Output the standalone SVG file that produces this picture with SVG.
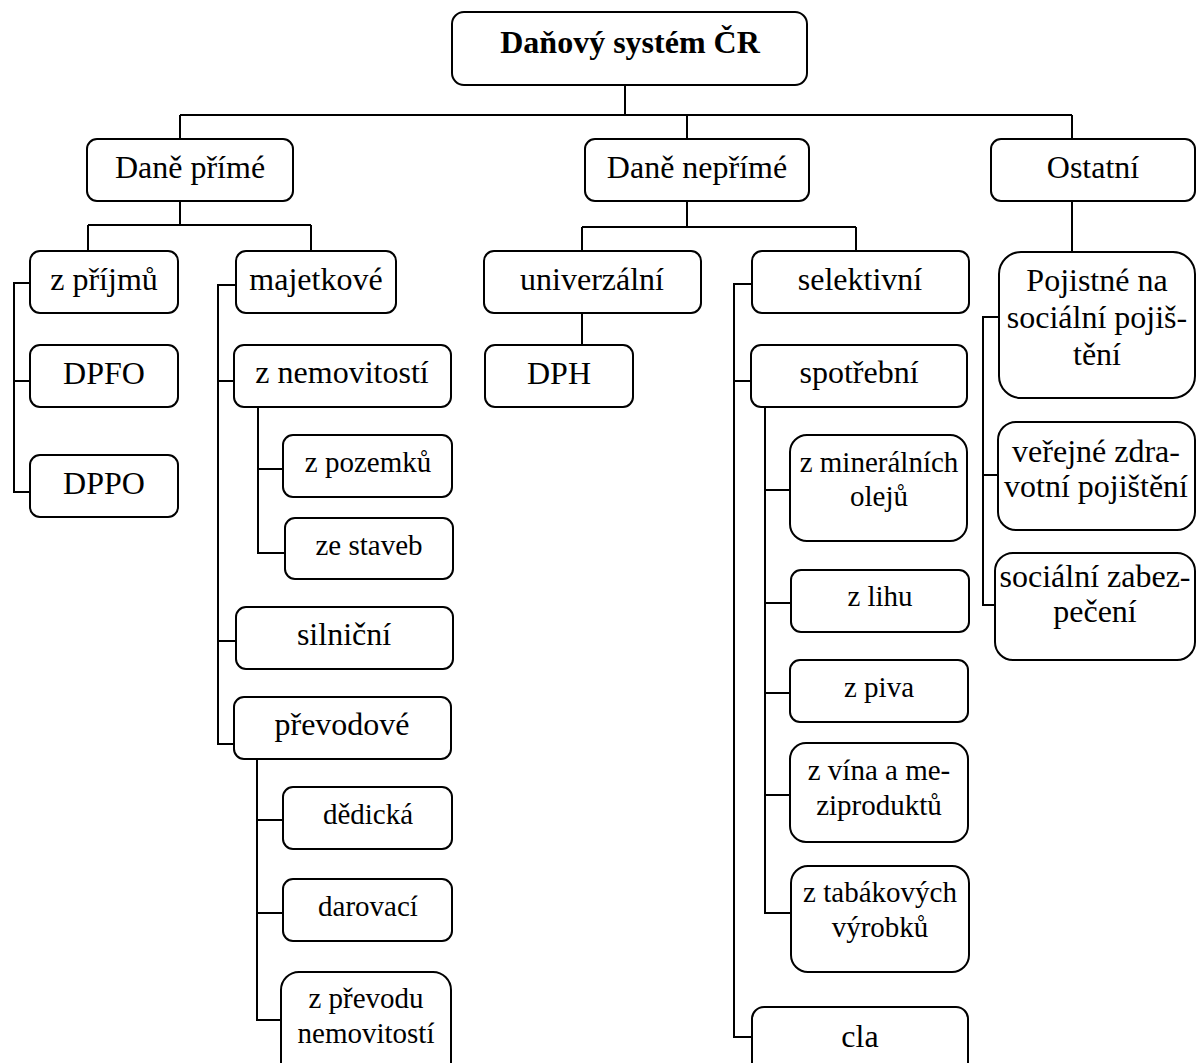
<svg xmlns="http://www.w3.org/2000/svg" width="1196" height="1063" viewBox="0 0 1196 1063">
<style>
  .box { fill: #fff; stroke: #000; stroke-width: 2; }
  .t { font-family: 'Liberation Serif', 'Times New Roman', serif; font-size: 32px; fill: #000; text-anchor: middle; }
  .s { font-size: 29px; }
  .b { font-weight: bold; }
  .c { fill: none; stroke: #000; stroke-width: 2; }
</style>
<rect width="1196" height="1063" fill="#fff"/>
<g id="connectors">
  <path class="c" d="M625 85V115M180 115H1072M180 115V139M687 115V139M1072 115V139"/>
  <path class="c" d="M180 201V225M88 225H311M88 225V251M311 225V251"/>
  <path class="c" d="M687 201V227M582 227H856M582 227V251M856 227V251"/>
  <path class="c" d="M1072 201V252"/>
  <path class="c" d="M30 283H14V492H30M14 381H30"/>
  <path class="c" d="M236 285H218V744H234M218 381H234M218 641H236"/>
  <path class="c" d="M258 407V553H285M258 469H283"/>
  <path class="c" d="M257 759V1020H281M257 820H283M257 913H283"/>
  <path class="c" d="M582 313V345"/>
  <path class="c" d="M752 284H734V1037H752M734 381H751"/>
  <path class="c" d="M765 407V913H791M765 490H790M765 603H791M765 693H790M765 795H790"/>
  <path class="c" d="M999 317H983V605H995M983 475H998"/>
</g>
<g id="root"><rect class="box" x="452" y="12" width="355" height="73" rx="12"/><text class="t b" x="630" y="53">Daňový systém ČR</text></g>
<g id="dane-prime"><rect class="box" x="87" y="139" width="206" height="62" rx="10"/><text class="t" x="190" y="178">Daně přímé</text></g>
<g id="dane-neprime"><rect class="box" x="585" y="139" width="224" height="62" rx="10"/><text class="t" x="697" y="178">Daně nepřímé</text></g>
<g id="ostatni"><rect class="box" x="991" y="139" width="204" height="62" rx="10"/><text class="t" x="1093" y="178">Ostatní</text></g>
<g id="z-prijmu"><rect class="box" x="30" y="251" width="148" height="62" rx="10"/><text class="t" x="104" y="290">z příjmů</text></g>
<g id="majetkove"><rect class="box" x="236" y="251" width="160" height="62" rx="10"/><text class="t" x="316" y="290">majetkové</text></g>
<g id="univerzalni"><rect class="box" x="484" y="251" width="217" height="62" rx="10"/><text class="t" x="592" y="290">univerzální</text></g>
<g id="selektivni"><rect class="box" x="752" y="251" width="217" height="62" rx="10"/><text class="t" x="860" y="290">selektivní</text></g>
<g id="pojistne"><rect class="box" x="999" y="252" width="196" height="146" rx="22"/><text class="t" x="1097" y="291">Pojistné na</text><text class="t" x="1097" y="328">sociální pojiš-</text><text class="t" x="1097" y="365">tění</text></g>
<g id="dpfo"><rect class="box" x="30" y="345" width="148" height="62" rx="10"/><text class="t" x="104" y="384">DPFO</text></g>
<g id="dppo"><rect class="box" x="30" y="455" width="148" height="62" rx="10"/><text class="t" x="104" y="494">DPPO</text></g>
<g id="z-nemovitosti"><rect class="box" x="234" y="345" width="217" height="62" rx="10"/><text class="t" x="342" y="383">z nemovitostí</text></g>
<g id="z-pozemku"><rect class="box" x="283" y="435" width="169" height="62" rx="10"/><text class="t s" x="368" y="472">z pozemků</text></g>
<g id="ze-staveb"><rect class="box" x="285" y="518" width="168" height="61" rx="10"/><text class="t s" x="369" y="555">ze staveb</text></g>
<g id="silnicni"><rect class="box" x="236" y="607" width="217" height="62" rx="10"/><text class="t" x="344" y="645">silniční</text></g>
<g id="prevodove"><rect class="box" x="234" y="697" width="217" height="62" rx="10"/><text class="t" x="342" y="735">převodové</text></g>
<g id="dedicka"><rect class="box" x="283" y="787" width="169" height="62" rx="10"/><text class="t s" x="368" y="824">dědická</text></g>
<g id="darovaci"><rect class="box" x="283" y="879" width="169" height="62" rx="10"/><text class="t s" x="368" y="916">darovací</text></g>
<g id="z-prevodu"><rect class="box" x="281" y="972" width="170" height="110" rx="18"/><text class="t s" x="366" y="1008">z převodu</text><text class="t s" x="366" y="1043">nemovitostí</text></g>
<g id="dph"><rect class="box" x="485" y="345" width="148" height="62" rx="10"/><text class="t" x="559" y="384">DPH</text></g>
<g id="spotrebni"><rect class="box" x="751" y="345" width="216" height="62" rx="10"/><text class="t" x="859" y="383">spotřební</text></g>
<g id="z-mineralnich"><rect class="box" x="790" y="435" width="177" height="106" rx="17"/><text class="t s" x="879" y="472">z minerálních</text><text class="t s" x="879" y="506">olejů</text></g>
<g id="z-lihu"><rect class="box" x="791" y="570" width="178" height="62" rx="10"/><text class="t s" x="880" y="606">z lihu</text></g>
<g id="z-piva"><rect class="box" x="790" y="660" width="178" height="62" rx="10"/><text class="t s" x="879" y="697">z piva</text></g>
<g id="z-vina"><rect class="box" x="790" y="743" width="178" height="99" rx="16"/><text class="t s" x="879" y="780">z vína a me-</text><text class="t s" x="879" y="815">ziproduktů</text></g>
<g id="z-tabakovych"><rect class="box" x="791" y="866" width="178" height="106" rx="17"/><text class="t s" x="880" y="902">z tabákových</text><text class="t s" x="880" y="937">výrobků</text></g>
<g id="cla"><rect class="box" x="752" y="1007" width="216" height="80" rx="12"/><text class="t" x="860" y="1047">cla</text></g>
<g id="verejne"><rect class="box" x="998" y="422" width="197" height="108" rx="18"/><text class="t" x="1096" y="462">veřejné zdra-</text><text class="t" x="1096" y="497">votní pojištění</text></g>
<g id="socialni-zabezpeceni"><rect class="box" x="995" y="553" width="200" height="107" rx="18"/><text class="t" x="1095" y="587">sociální zabez-</text><text class="t" x="1095" y="622">pečení</text></g>
</svg>
